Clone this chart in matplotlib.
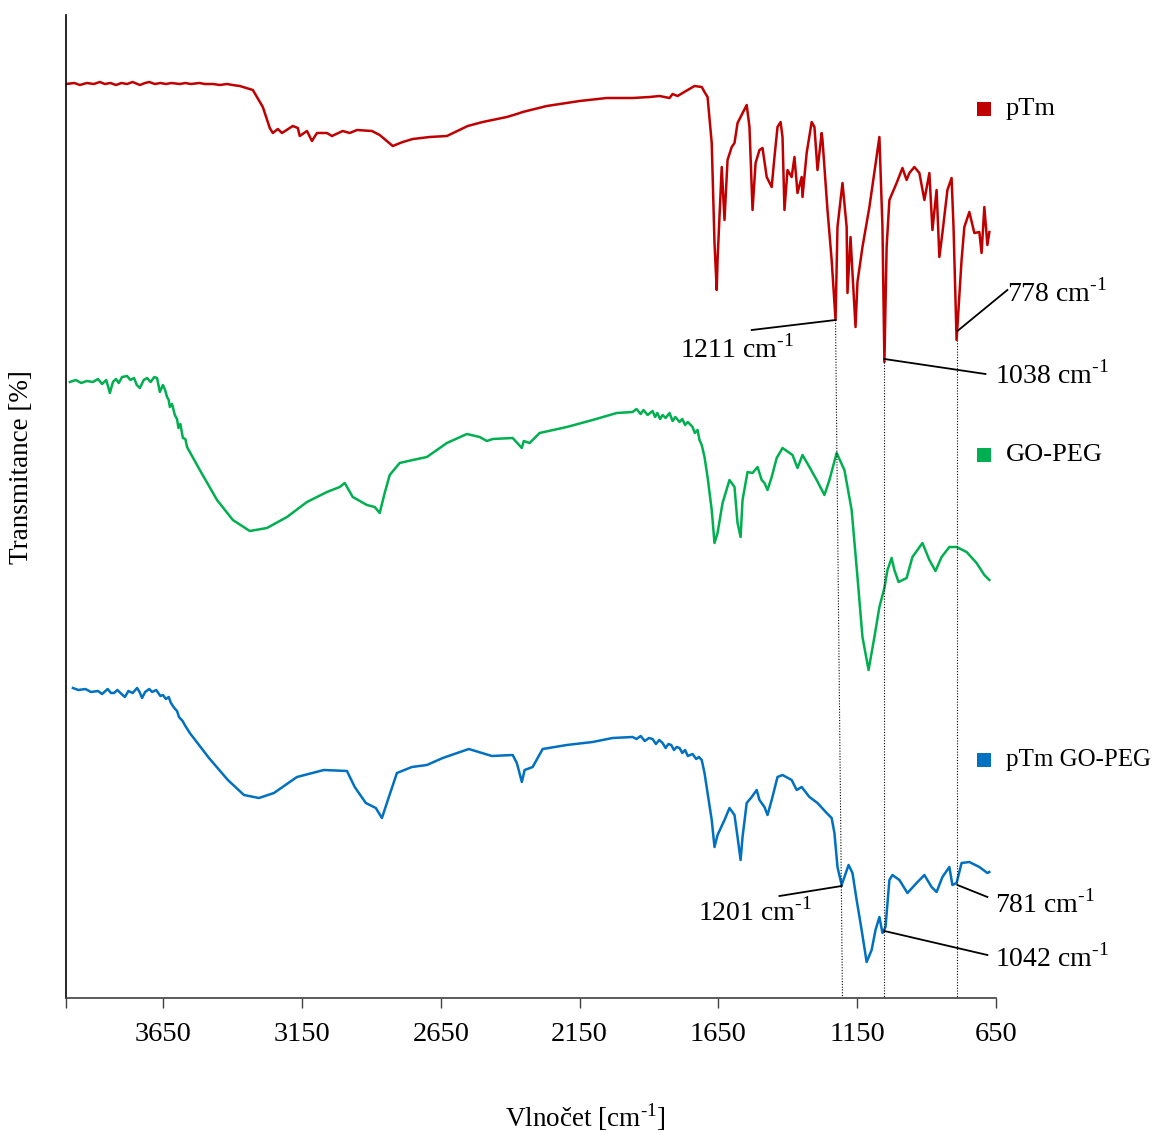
import matplotlib
matplotlib.use("Agg")
import matplotlib.pyplot as plt
from matplotlib.patches import Rectangle

plt.rcParams['font.family'] = ['Liberation Serif', 'DejaVu Serif']
plt.rcParams['mathtext.fontset'] = 'custom'
plt.rcParams['mathtext.rm'] = 'Liberation Serif'

# ---------------- data (wavenumber [cm-1], transmittance [a.u. %]) ----------------
ptm_wn = [4000, 3970, 3950, 3925, 3900, 3878, 3860, 3840, 3820, 3800, 3780, 3760, 3734, 3715, 3700, 3680, 3660,
          3640, 3620, 3590, 3570, 3550, 3520, 3500, 3470, 3446, 3420, 3400, 3374,
          3327, 3291, 3266, 3255, 3237, 3222, 3183, 3165, 3158, 3132, 3114, 3096, 3060, 3042, 3003, 2978,
          2952, 2898, 2870, 2823, 2787, 2751, 2690, 2628, 2553, 2499, 2412, 2376, 2355, 2268, 2196, 2150,
          2052, 1959, 1898, 1862, 1826, 1815, 1797, 1779, 1736, 1710, 1700, 1689, 1674, 1664, 1656, 1653,
          1638, 1628, 1617, 1602, 1592, 1581, 1548, 1538, 1527, 1516, 1502, 1491, 1476, 1458, 1448, 1437,
          1426, 1419, 1412, 1401, 1386, 1376, 1365, 1350, 1347, 1332, 1314, 1304, 1293, 1278, 1275, 1257,
          1242, 1228, 1221, 1203, 1188, 1185, 1174, 1167, 1156, 1149, 1131, 1106, 1070, 1059, 1052, 1044,
          1034, 1008, 987, 972, 962, 944, 926, 908, 890, 879, 864, 854, 843, 825, 810, 803, 792, 774, 764,
          746, 728, 710, 702, 692, 681, 674]
ptm_t = [91.4, 91.5, 91.3, 91.5, 91.4, 91.6, 91.4, 91.5, 91.3, 91.5, 91.4, 91.6, 91.3, 91.5, 91.6, 91.4, 91.5,
         91.4, 91.5, 91.4, 91.5, 91.4, 91.5, 91.4, 91.4, 91.3, 91.4, 91.3, 91.2,
         90.8, 89.1, 87.0, 86.5, 86.9, 86.5, 87.2, 87.0, 86.2, 86.7, 85.7, 86.5, 86.5, 86.2, 86.7, 86.5,
         86.8, 86.7, 86.3, 85.2, 85.6, 85.9, 86.1, 86.2, 87.2, 87.6, 88.1, 88.4, 88.6, 89.2, 89.5, 89.7,
         90.0, 90.0, 90.1, 90.2, 90.0, 90.4, 90.2, 90.5, 91.2, 91.1, 90.6, 90.1, 85.5, 75.5, 70.8, 73.8,
         83.1, 77.8, 83.8, 85.1, 85.5, 87.5, 89.3, 87.1, 78.8, 83.5, 84.8, 85.0, 82.1, 81.1, 84.1, 87.1,
         87.6, 86.1, 78.8, 82.8, 82.1, 84.1, 80.5, 82.1, 80.1, 84.5, 87.6, 87.1, 82.8, 86.5, 85.8, 78.8,
         73.8, 67.8, 77.1, 81.5, 77.1, 70.5, 76.1, 72.5, 67.1, 71.6, 75.1, 79.1, 86.1, 77.1, 63.6, 75.1,
         79.8, 81.5, 83.0, 81.8, 82.5, 83.1, 82.5, 79.8, 82.5, 76.8, 80.8, 74.1, 76.5, 80.8, 82.0, 77.1,
         65.8, 73.8, 77.1, 78.6, 76.5, 76.6, 74.5, 79.1, 75.3, 76.6]

gopeg_wn = [3986, 3965, 3945, 3925, 3903, 3885, 3870, 3855, 3842, 3831, 3820, 3810, 3798, 3780, 3768, 3755,
            3745, 3734, 3720, 3708, 3695, 3682, 3672, 3662, 3651, 3643, 3636, 3630, 3626, 3618, 3608, 3600,
            3595, 3588, 3579, 3570, 3564, 3518, 3456, 3399, 3338, 3276, 3204, 3132, 3060, 3014, 2996, 2967,
            2916, 2888, 2870, 2852, 2834, 2798, 2751, 2700, 2628, 2556, 2510, 2484, 2463, 2391, 2358, 2351,
            2330, 2294, 2196, 2103, 2016, 1959, 1945, 1930, 1920, 1905, 1887, 1878, 1870, 1860, 1851, 1840,
            1826, 1815, 1805, 1790, 1780, 1770, 1760, 1743, 1735, 1725, 1718, 1710,
            1700, 1689, 1674, 1664, 1653, 1635, 1610, 1592, 1581, 1570, 1563, 1545, 1527, 1509, 1494, 1484,
            1473, 1458, 1440, 1419, 1383, 1365, 1347, 1322, 1296, 1268, 1250, 1224, 1196, 1170, 1149, 1131,
            1109, 1088, 1070, 1052, 1041, 1026, 1016, 1001, 972, 951, 915, 890, 868, 846, 818, 792, 756, 720,
            692, 674]
gopeg_t = [61.6, 61.8, 61.5, 61.7, 61.6, 61.9, 61.4, 61.8, 60.5, 61.6, 61.9, 61.5, 62.1, 62.2, 61.8, 62.0,
           61.3, 61.0, 61.8, 62.0, 61.6, 62.1, 62.0, 60.6, 61.3, 60.8, 60.1, 59.8, 59.1, 59.4, 58.3, 57.9,
           57.0, 57.4, 56.0, 55.9, 55.1, 52.8, 49.8, 47.8, 46.7, 47.0, 48.1, 49.6, 50.6, 51.1, 51.5, 50.1,
           49.3, 49.1, 48.5, 50.5, 52.3, 53.5, 53.8, 54.1, 55.5, 56.4, 56.1, 55.7, 55.9, 56.0, 55.0, 55.7,
           55.5, 56.5, 57.1, 57.8, 58.5, 58.6, 58.9, 58.4, 58.8, 58.3, 58.7, 58.1, 58.5, 57.9, 58.3, 58.0,
           58.5, 57.7, 58.1, 57.6, 57.9, 57.3, 57.6, 57.1, 56.5, 56.8, 55.8, 55.3,
           54.1, 52.1, 48.8, 45.5, 46.5, 49.5, 51.8, 51.1, 47.5, 46.1, 49.8, 52.6, 52.5, 53.1, 51.8, 51.5,
           50.8, 52.1, 54.0, 55.0, 54.3, 53.0, 54.3, 53.1, 51.8, 50.3, 51.8, 54.5, 52.8, 48.8, 42.1, 36.1,
           32.8, 36.1, 39.1, 41.0, 42.8, 44.0, 42.8, 41.6, 42.0, 44.1, 45.5, 43.8, 42.7, 44.1, 45.1, 45.1,
           44.6, 43.5, 42.3, 41.8]

ptm_gopeg_wn = [3975, 3955, 3930, 3910, 3885, 3870, 3850, 3838, 3827, 3815, 3800, 3788, 3775, 3760, 3744,
                3735, 3726, 3715, 3700, 3690, 3675, 3660, 3651, 3640, 3630, 3622, 3610, 3600, 3593, 3580,
                3570, 3554, 3485, 3417,
                3359, 3305, 3251, 3168, 3071, 2988, 2960, 2920, 2884, 2862, 2837, 2808, 2754, 2700, 2643,
                2549, 2466, 2391, 2376, 2358, 2348, 2319, 2283, 2196, 2103, 2031, 1959, 1945, 1930, 1915,
                1900, 1887, 1875, 1863, 1851, 1840, 1830, 1820, 1810, 1800, 1790, 1780, 1770, 1760, 1743,
                1730, 1720, 1710, 1700, 1689, 1674, 1664, 1653, 1628, 1610, 1592, 1581, 1570, 1563, 1548,
                1530, 1512, 1502, 1484, 1473, 1458, 1437, 1419, 1386, 1368, 1350, 1322, 1293, 1260, 1242,
                1232, 1221, 1206, 1196, 1181, 1167, 1152, 1134, 1116, 1098, 1084, 1070, 1059, 1048, 1034,
                1023, 998, 969, 936, 908, 882, 864, 843, 818, 807, 792, 774, 746, 710, 681, 674]
ptm_gopeg_t = [31.0, 30.8, 30.9, 30.6, 30.7, 30.4, 30.9, 30.5, 30.5, 30.8, 30.4, 30.1, 30.7, 30.5, 31.0,
               30.6, 30.0, 30.6, 30.9, 30.6, 30.8, 30.2, 30.3, 29.9, 30.1, 29.5, 29.0, 28.7, 28.1, 27.7,
               27.2, 26.5, 24.0, 21.8,
               20.3, 20.0, 20.5, 22.1, 22.8, 22.7, 21.1, 19.5, 19.0, 18.0, 20.1, 22.5, 23.1, 23.3, 24.0,
               24.9, 24.2, 24.3, 23.5, 21.6, 22.8, 23.1, 24.9, 25.3, 25.6, 26.0, 26.1, 25.9, 26.2, 25.7,
               26.0, 25.9, 25.4, 25.8, 25.5, 25.0, 25.4, 25.3, 24.8, 25.1, 25.0, 24.5, 24.8, 24.2, 24.4,
               23.9, 24.1, 23.8, 22.5, 20.5, 17.8, 15.1, 16.3, 17.8, 19.0, 18.3, 16.1, 13.8, 16.1, 19.5,
               20.1, 20.8, 19.8, 19.1, 18.3, 19.8, 22.1, 22.3, 21.8, 20.8, 21.1, 20.1, 19.5, 18.5, 18.0,
               16.5, 13.1, 11.3, 12.1, 13.3, 12.5, 9.8, 6.8, 3.6, 4.8, 6.8, 8.1, 6.5, 7.1, 11.8,
               12.3, 11.8, 10.5, 11.5, 12.3, 11.1, 10.6, 12.1, 13.1, 11.3, 11.5, 13.5, 13.6, 13.1, 12.5, 12.6]

series_names = ["pTm", "GO-PEG", "pTm GO-PEG"]
series_colors = ["#C00000", "#00B050", "#0070C0"]

tick_values = [3650, 3150, 2650, 2150, 1650, 1150, 650]
tick_labels = ["3650", "3150", "2650", "2150", "1650", "1150", "650"]

SUP = "cm$^{\\mathregular{\u20101}}$"
peak_labels = ["1211 " + SUP, "1038 " + SUP, "778 " + SUP, "1201 " + SUP, "1042 " + SUP, "781 " + SUP]
peak_wn = [1228, 1052, 789, 1206, 1052, 789]
peak_t = [67.8, 63.9, 66.7, 11.2, 6.7, 11.3]
text_wn = [1584, 652, 609, 1520, 652, 652]
text_t = [64.9, 62.3, 70.5, 8.6, 4.0, 9.4]
text_ha = ["center", "left", "left", "center", "left", "left"]
line_wn = [1530, 688, 609, 1430, 681, 681]
line_t = [66.8, 62.4, 70.8, 10.2, 4.3, 10.1]

guide_top_wn = [1228, 1052, 792]
guide_top_t = [67.8, 63.6, 65.8]
guide_bot_wn = [1203, 1052, 792]

# ---------------- figure ----------------
W, H = 1158, 1133
fig = plt.figure(figsize=(W / 100, H / 100), dpi=100)
ax = fig.add_axes([66 / W, 1 - 998 / H, (996 - 66) / W, (998 - 15) / H])

for wn, t, c in zip([ptm_wn, gopeg_wn, ptm_gopeg_wn], [ptm_t, gopeg_t, ptm_gopeg_t], series_colors):
    ax.plot(wn, t, color=c, lw=1.8, solid_joinstyle='round')

ax.set_xlim(4000, 650)
ax.set_ylim(0, 98.3)

for tw, tt, bw in zip(guide_top_wn, guide_top_t, guide_bot_wn):
    ax.plot([tw, bw], [tt, 0], color='black', lw=0.8, ls=(0, (1, 1.5)))

for lab, pw, pt, tw, tt, ha, lw_, lt in zip(peak_labels, peak_wn, peak_t, text_wn, text_t, text_ha, line_wn, line_t):
    ax.plot([lw_, pw], [lt, pt], color='black', lw=1.3, clip_on=False)
    ax.text(tw, tt, lab, ha=ha, va='center', fontsize=20, clip_on=False)

ax.set_xticks(tick_values)
ax.set_xticklabels(tick_labels, fontsize=20.5)
ax.set_xticks([4000], minor=True)
ax.tick_params(axis='x', which='both', direction='out', length=7, width=1, pad=10, color='#404040')
ax.set_yticks([])
for s in ['top', 'right']:
    ax.spines[s].set_visible(False)
ax.spines['bottom'].set_color('#404040')
ax.spines['bottom'].set_linewidth(1.2)
ax.spines['left'].set_color('black')
ax.spines['left'].set_linewidth(1.2)

fig.text(585 / W, 1 - 1117 / H, "Vlnočet [cm$^{\\mathregular{\u20101}}$]", ha='center', va='center', fontsize=19.5)
fig.text(22 / W, 1 - 467 / H, "Transmitance [%]", ha='center', va='center', rotation=90, fontsize=19.5)

leg_y = [109, 455, 760]
leg_size = [19, 19, 18]
for name, c, yy, fs in zip(series_names, series_colors, leg_y, leg_size):
    sq = 14
    fig.patches.append(Rectangle(((984 - sq / 2) / W, 1 - (yy + sq / 2) / H), sq / W, sq / H,
                                 transform=fig.transFigure, facecolor=c, edgecolor='none'))
    fig.text(1006 / W, 1 - yy / H, name, ha='left', va='center', fontsize=fs)

fig.savefig("out.png", dpi=100)
